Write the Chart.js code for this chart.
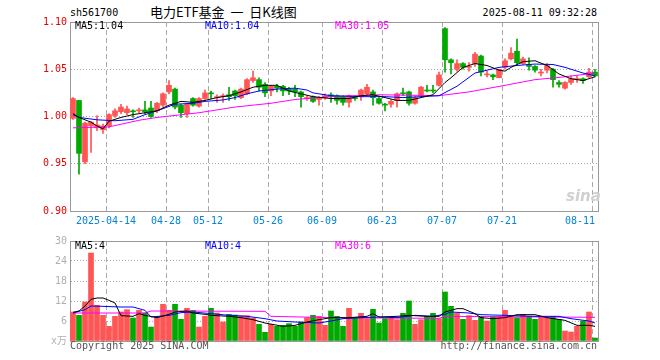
<!DOCTYPE html>
<html lang="zh-CN">
<head>
<meta charset="UTF-8">
<title>电力ETF基金 日K线图</title>
<style>
  body { margin: 0; width: 660px; height: 360px; background: #fff; position: relative; overflow: hidden;
         font-family: "DejaVu Sans Mono", monospace; font-size: 10px; }
  .txt { position: absolute; white-space: pre; line-height: 12px; }
  canvas { position: absolute; left: 0; }
</style>
</head>
<body>
  <div class="txt" style="left:70px;top:7px;color:#000">sh561700</div>
  <div class="txt" style="left:150px;top:4px;font-family:'Noto Sans CJK SC';font-size:13px;line-height:15px;color:#000">电力ETF基金  一  日K线图</div>
  <div class="txt" style="right:63px;top:7px;color:#000">2025-08-11 09:32:28</div>

  <canvas id="kline" width="660" height="230" style="top:0"></canvas>
  <canvas id="volume" width="660" height="130" style="top:230px"></canvas>

  <div class="txt" style="left:75px;top:20px;color:#000">MA5:1.04</div>
  <div class="txt" style="left:205px;top:20px;color:#0000ff">MA10:1.04</div>
  <div class="txt" style="left:335px;top:20px;color:#ff00ff">MA30:1.05</div>
  <div class="txt" style="left:566px;top:190px;color:#d0d0d0;font-family:'DejaVu Sans';font-size:15px;font-style:italic;font-weight:bold">sina</div>

  <div class="txt" style="left:75px;top:240px;color:#000">MA5:4</div>
  <div class="txt" style="left:205px;top:240px;color:#0000ff">MA10:4</div>
  <div class="txt" style="left:335px;top:240px;color:#ff00ff">MA30:6</div>

  <div class="txt" style="left:70px;top:340px;color:#555">Copyright 2025 SINA.COM</div>
  <div class="txt" style="right:63px;top:340px;color:#555">http://finance.sina.com.cn</div>

<script src="https://cdn.jsdelivr.net/npm/chart.js"></script>
<script>
  // trading days, 2025-04-03 .. 2025-08-11
  const dates = [
    '04-03', '04-07', '04-08', '04-09', '04-10', '04-11', '04-14', '04-15', '04-16', '04-17', '04-18',
    '04-21', '04-22', '04-23', '04-24', '04-25', '04-28', '04-29', '04-30',
    '05-06', '05-07', '05-08', '05-09', '05-12', '05-13', '05-14', '05-15', '05-16', '05-19', '05-20',
    '05-21', '05-22', '05-23', '05-26', '05-27', '05-28', '05-29', '05-30',
    '06-03', '06-04', '06-05', '06-06', '06-09', '06-10', '06-11', '06-12', '06-13', '06-16', '06-17',
    '06-18', '06-19', '06-20', '06-23', '06-24', '06-25', '06-26', '06-27', '06-30',
    '07-01', '07-02', '07-03', '07-04', '07-07', '07-08', '07-09', '07-10', '07-11', '07-14', '07-15',
    '07-16', '07-17', '07-18', '07-21', '07-22', '07-23', '07-24', '07-25', '07-28', '07-29', '07-30', '07-31',
    '08-01', '08-04', '08-05', '08-06', '08-07', '08-08', '08-11'
  ];
  const tickLabels = ['2025-04-14', '04-28', '05-12', '05-26', '06-09', '06-23', '07-07', '07-21', '08-11'];

  const opens = [
    0.998, 1.017, 0.952, 0.990, 0.988, 0.986, 0.990, 1.001, 1.005, 1.004,
    1.006, 1.006, 1.007, 1.009, 1.006, 1.012, 1.026, 1.029, 1.012, 1.003,
    1.019, 1.011, 1.019, 1.025, 1.020, 1.021, 1.023, 1.027, 1.020, 1.024,
    1.038, 1.039, 1.034, 1.027, 1.032, 1.032, 1.029, 1.029, 1.026, 1.019,
    1.021, 1.018, 1.020, 1.023, 1.022, 1.021, 1.015, 1.020, 1.021, 1.024,
    1.026, 1.019, 1.013, 1.013, 1.017, 1.025, 1.026, 1.014, 1.022, 1.028,
    1.028, 1.033, 1.093, 1.060, 1.050, 1.056, 1.052, 1.056, 1.064, 1.044,
    1.044, 1.041, 1.052, 1.061, 1.069, 1.056, 1.055, 1.053, 1.046, 1.049,
    1.050, 1.036, 1.030, 1.036, 1.039, 1.040, 1.042, 1.047
  ];
  const closes = [
    1.019, 0.961, 0.993, 0.994, 0.991, 0.990, 1.002, 1.006, 1.010, 1.008,
    1.005, 1.007, 1.005, 1.000, 1.014, 1.024, 1.033, 1.010, 1.004, 1.013,
    1.012, 1.019, 1.025, 1.024, 1.021, 1.022, 1.021, 1.022, 1.029, 1.039,
    1.041, 1.031, 1.025, 1.032, 1.030, 1.027, 1.027, 1.026, 1.021, 1.020,
    1.016, 1.020, 1.022, 1.021, 1.017, 1.015, 1.022, 1.019, 1.028, 1.031,
    1.020, 1.014, 1.012, 1.016, 1.024, 1.024, 1.014, 1.020, 1.031, 1.027,
    1.027, 1.044, 1.060, 1.057, 1.056, 1.052, 1.053, 1.066, 1.047, 1.045,
    1.042, 1.050, 1.059, 1.067, 1.057, 1.061, 1.053, 1.049, 1.047, 1.054,
    1.039, 1.034, 1.036, 1.040, 1.040, 1.038, 1.047, 1.043
  ];
  const highs = [
    1.020, 1.017, 0.994, 0.995, 1.001, 0.992, 1.003, 1.008, 1.013, 1.011,
    1.007, 1.009, 1.016, 1.016, 1.015, 1.025, 1.038, 1.030, 1.013, 1.014,
    1.020, 1.020, 1.028, 1.027, 1.023, 1.024, 1.031, 1.028, 1.030, 1.040,
    1.048, 1.041, 1.036, 1.033, 1.034, 1.033, 1.031, 1.033, 1.027, 1.022,
    1.022, 1.021, 1.024, 1.025, 1.023, 1.022, 1.023, 1.022, 1.029, 1.034,
    1.028, 1.020, 1.014, 1.018, 1.025, 1.030, 1.027, 1.021, 1.032, 1.033,
    1.033, 1.047, 1.094, 1.061, 1.060, 1.057, 1.057, 1.068, 1.065, 1.048,
    1.045, 1.050, 1.061, 1.073, 1.082, 1.063, 1.062, 1.054, 1.050, 1.056,
    1.051, 1.038, 1.037, 1.043, 1.043, 1.041, 1.051, 1.050
  ];
  const lows = [
    0.997, 0.939, 0.950, 0.962, 0.985, 0.982, 0.988, 0.999, 1.003, 1.002,
    0.999, 1.004, 1.003, 0.999, 1.004, 1.010, 1.024, 1.008, 0.999, 0.999,
    1.011, 1.010, 1.018, 1.019, 1.015, 1.015, 1.017, 1.018, 1.019, 1.023,
    1.036, 1.027, 1.021, 1.022, 1.026, 1.022, 1.023, 1.021, 1.010, 1.017,
    1.015, 1.012, 1.018, 1.015, 1.013, 1.012, 1.010, 1.017, 1.017, 1.023,
    1.012, 1.013, 1.006, 1.010, 1.010, 1.022, 1.012, 1.013, 1.021, 1.026,
    1.025, 1.032, 1.047, 1.045, 1.048, 1.050, 1.048, 1.053, 1.043, 1.042,
    1.039, 1.041, 1.050, 1.060, 1.055, 1.055, 1.049, 1.047, 1.043, 1.046,
    1.031, 1.031, 1.029, 1.034, 1.036, 1.035, 1.041, 1.042
  ];
  // volume, 万手
  const volumes = [
    8.7, 7.7, 11.7, 26.4, 10.7, 7.7, 4.4, 7.4, 8.7, 9.4,
    6.9, 9.2, 8.4, 4.2, 7.4, 11, 9.2, 11, 6.5, 9.8,
    9.2, 4.2, 7.4, 9.8, 8.4, 5.7, 8, 7.8, 7.6, 7.6,
    6.9, 5, 2.6, 5, 4.4, 4.7, 5.2, 4.4, 5.7, 7,
    7.7, 7.4, 4.7, 9, 7.4, 4.4, 9.8, 7, 8.3, 6.7,
    9.5, 5.4, 6.7, 7, 6.4, 8.3, 12, 5, 6.4, 7.4,
    8.3, 6.7, 14.7, 10.4, 8.3, 6.5, 7.6, 6.2, 7.4, 6,
    7.4, 7.4, 9.2, 7.4, 7, 8, 7.4, 6.5, 7.4, 7,
    7.4, 6.5, 3, 2.7, 4.4, 6, 8.7, 0.9
  ];

  // moving averages: [day index, value]
  const priceMa5 = [[0, 1.003], [1, 0.999], [3, 0.994], [4, 0.990], [5, 0.987], [6, 0.995], [8, 0.999], [10, 1.002],
    [12, 1.004], [14, 1.006], [16, 1.012], [18, 1.016], [20, 1.015], [22, 1.017], [24, 1.020], [26, 1.022],
    [28, 1.026], [30, 1.031], [32, 1.033], [34, 1.033], [36, 1.027], [38, 1.024], [40, 1.021], [43, 1.019],
    [46, 1.019], [48, 1.022], [50, 1.023], [52, 1.020], [54, 1.017], [56, 1.017], [58, 1.020], [60, 1.023],
    [62, 1.036], [63, 1.041], [65, 1.052], [67, 1.056], [69, 1.054], [71, 1.049], [72, 1.048], [73, 1.052],
    [75, 1.058], [77, 1.059], [79, 1.054], [81, 1.045], [83, 1.040], [85, 1.038], [87, 1.042]];
  const priceMa10 = [[0, 1.002], [1, 0.999], [4, 0.9965], [7, 0.9955], [10, 0.997], [12, 1.002], [14, 1.006],
    [17, 1.013], [20, 1.014], [22, 1.016], [25, 1.0175], [27, 1.020], [29, 1.024], [31, 1.027], [34, 1.029],
    [37, 1.030], [39, 1.028], [40, 1.025], [43, 1.022], [48, 1.021], [52, 1.021], [55, 1.020], [58, 1.021],
    [61, 1.022], [64, 1.032], [67, 1.046], [71, 1.052], [74, 1.054], [77, 1.0555], [80, 1.055], [82, 1.052],
    [85, 1.046], [87, 1.043]];
  const priceMa30 = [[0, 0.988], [6, 0.989], [11, 0.996], [14, 0.999], [21, 1.004], [27, 1.010], [33, 1.014],
    [37, 1.018], [43, 1.021], [51, 1.023], [61, 1.022], [66, 1.026], [72, 1.033], [77, 1.039], [82, 1.042],
    [87, 1.046]];
  const volMa5 = [[0, 8.6], [1, 9], [2, 10.5], [3, 12.5], [4, 12.9], [5, 12.9], [6, 12.2], [7, 11.4], [8, 7.6],
    [10, 7.4], [11, 8.2], [12, 7.7], [14, 7], [16, 8], [17, 8.7], [19, 9], [20, 8.4], [22, 8], [23, 7.7],
    [26, 7.4], [28, 7], [30, 6.4], [32, 5.4], [35, 4.4], [37, 4.7], [39, 5.7], [41, 6.4], [43, 7], [46, 7],
    [49, 7.4], [50, 8.2], [51, 7.2], [54, 7.4], [56, 7.7], [59, 7.4], [61, 7.4], [62, 8.7], [64, 9.7],
    [65, 9.7], [67, 8.2], [68, 7], [70, 6.7], [72, 7], [74, 7.9], [77, 7.9], [79, 7], [82, 6.2], [84, 4.7],
    [86, 4.7], [87, 4.4]];
  const volMa10 = [[0, 8.4], [2, 9.4], [3, 10.5], [5, 10.4], [8, 10.2], [10, 10.2], [12, 9.2], [13, 7.2],
    [16, 7.7], [18, 8.5], [20, 8.7], [23, 8.2], [26, 7.7], [29, 7.4], [32, 6.7], [34, 6], [37, 5.7], [41, 5.4],
    [43, 6], [45, 6.7], [48, 7], [51, 7.2], [54, 7], [57, 7.7], [60, 7.4], [62, 8], [63, 8.7], [66, 8.4],
    [68, 7.9], [72, 7.7], [77, 7.4], [81, 7.4], [83, 6.7], [86, 6], [87, 5.4]];
  const volMa30 = [[0, 8.4], [12, 8.4], [13, 9], [32, 8.9], [33, 7.4], [43, 7], [61, 6.8], [62, 7.4], [87, 7.1]];

  var upColor = '#ff5555';
  var downColor = '#00a800';
  var gridColor = '#aaaaaa';
  var frameColor = '#999999';
  var monoFont = { family: 'DejaVu Sans Mono', size: 10 };

  var candleColors = opens.map((o, i) => closes[i] >= o ? upColor : downColor);

  // sparse line data from [index, value] pairs, gaps are spanned by the line
  function toSeries(pairs) {
    var arr = dates.map(() => null);
    pairs.forEach(p => { arr[p[0]] = p[1]; });
    return arr;
  }

  function tickLabelFor(index) {
    var t = tickLabels.find(l => l.endsWith(dates[index]));
    if (!t) return '';
    // last label sits left of its line, like the original
    return index === dates.length - 1 ? t + '    ' : t;
  }

  function maLine(label, pairs, color) {
    return {
      type: 'line', label: label, data: toSeries(pairs), borderColor: color, borderWidth: 1,
      pointRadius: 0, spanGaps: true, tension: 0, order: 0
    };
  }

  function xAxis(showLabels) {
    return {
      type: 'category',
      offset: true,
      afterFit: s => { s.height = 19; },
      grid: {
        offset: true,
        drawTicks: false,
        lineWidth: 1,
        color: ctx => ctx.type !== 'tick' ? frameColor : (tickLabelFor(ctx.index) ? gridColor : 'rgba(0,0,0,0)')
      },
      border: { color: frameColor, width: 1, dash: ctx => ctx.type === 'tick' ? [5, 3] : [] },
      ticks: {
        display: showLabels,
        autoSkip: false,
        maxRotation: 0,
        minRotation: 0,
        padding: 4,
        labelOffset: -3,
        color: '#0584d8',
        font: monoFont,
        callback: (v, i) => tickLabelFor(i)
      }
    };
  }

  var commonOpts = {
    responsive: false,
    animation: false,
    devicePixelRatio: 1,
    events: [],
    plugins: { legend: { display: false }, tooltip: { enabled: false } }
  };

  // K线
  new Chart(document.getElementById('kline'), {
    type: 'bar',
    data: {
      labels: dates,
      datasets: [
        {
          label: 'wick', data: highs.map((h, i) => [lows[i], h]), backgroundColor: candleColors,
          barThickness: 1, grouped: false, order: 2
        },
        {
          label: 'body', data: opens.map((o, i) => [o, closes[i]]), backgroundColor: candleColors,
          barThickness: 5, minBarLength: 1, grouped: false, order: 1
        },
        maLine('MA5', priceMa5, '#000000'),
        maLine('MA10', priceMa10, '#0000ff'),
        maLine('MA30', priceMa30, '#ff00ff')
      ]
    },
    options: Object.assign({}, commonOpts, {
      layout: { padding: { left: 0, right: 62, top: 22, bottom: 0 } },
      scales: {
        x: xAxis(true),
        y: {
          min: 0.9,
          max: 1.1,
          afterFit: s => { s.width = 70; },
          grid: { drawTicks: false, color: ctx => ctx.index === 4 ? frameColor : gridColor },
          border: { color: frameColor, width: 1, dash: ctx => (ctx.type === 'tick' && ctx.index < 4) ? [1, 2] : [] },
          ticks: { stepSize: 0.05, padding: 3, color: '#e60000', font: monoFont, callback: v => v.toFixed(2) }
        }
      }
    })
  });

  // 成交量
  new Chart(document.getElementById('volume'), {
    type: 'bar',
    data: {
      labels: dates,
      datasets: [
        { label: 'vol', data: volumes, backgroundColor: candleColors, barThickness: 5, grouped: false, order: 1 },
        maLine('MA5', volMa5, '#000000'),
        maLine('MA10', volMa10, '#0000ff'),
        maLine('MA30', volMa30, '#ff00ff')
      ]
    },
    options: Object.assign({}, commonOpts, {
      layout: { padding: { left: 0, right: 62, top: 11, bottom: 0 } },
      scales: {
        x: xAxis(false),
        y: {
          min: 0,
          max: 30,
          afterFit: s => { s.width = 70; },
          grid: { drawTicks: false, color: ctx => ctx.index === 5 ? frameColor : gridColor },
          border: { color: frameColor, width: 1, dash: ctx => (ctx.type === 'tick' && ctx.index < 5) ? [1, 2] : [] },
          ticks: {
            stepSize: 6, padding: 3, color: '#b0b0b0',
            font: { family: "'DejaVu Sans Mono', 'Noto Sans CJK SC'", size: 10 },
            callback: v => v === 0 ? 'x万' : v
          }
        }
      }
    })
  });
</script>
</body>
</html>
